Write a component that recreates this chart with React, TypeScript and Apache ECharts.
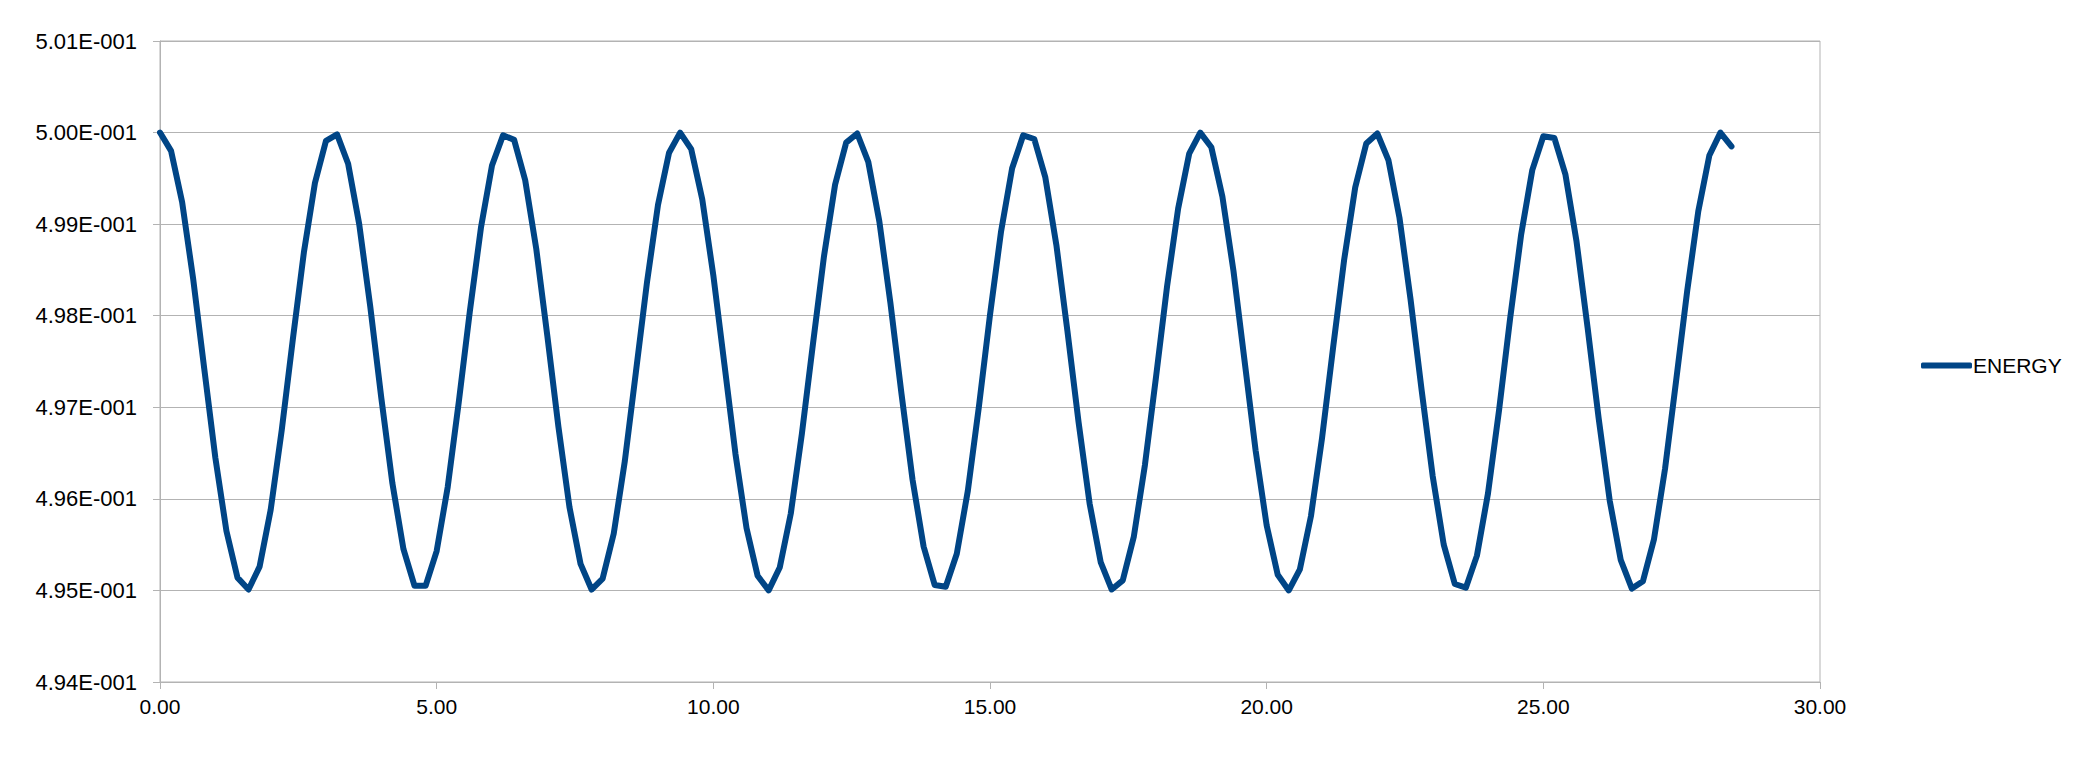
import React, { useEffect, useRef } from "react";
import * as echarts from "echarts";

const TIMES = [
  0, 0.2, 0.4, 0.6, 0.8, 1.0, 1.2, 1.4, 1.6, 1.8,
  2.0, 2.2, 2.4, 2.6, 2.8, 3.0, 3.2, 3.4, 3.6, 3.8,
  4.0, 4.2, 4.4, 4.6, 4.8, 5.0, 5.2, 5.4, 5.6, 5.8,
  6.0, 6.2, 6.4, 6.6, 6.8, 7.0, 7.2, 7.4, 7.6, 7.8,
  8.0, 8.2, 8.4, 8.6, 8.8, 9.0, 9.2, 9.4, 9.6, 9.8,
  10.0, 10.2, 10.4, 10.6, 10.8, 11.0, 11.2, 11.4, 11.6, 11.8,
  12.0, 12.2, 12.4, 12.6, 12.8, 13.0, 13.2, 13.4, 13.6, 13.8,
  14.0, 14.2, 14.4, 14.6, 14.8, 15.0, 15.2, 15.4, 15.6, 15.8,
  16.0, 16.2, 16.4, 16.6, 16.8, 17.0, 17.2, 17.4, 17.6, 17.8,
  18.0, 18.2, 18.4, 18.6, 18.8, 19.0, 19.2, 19.4, 19.6, 19.8,
  20.0, 20.2, 20.4, 20.6, 20.8, 21.0, 21.2, 21.4, 21.6, 21.8,
  22.0, 22.2, 22.4, 22.6, 22.8, 23.0, 23.2, 23.4, 23.6, 23.8,
  24.0, 24.2, 24.4, 24.6, 24.8, 25.0, 25.2, 25.4, 25.6, 25.8,
  26.0, 26.2, 26.4, 26.6, 26.8, 27.0, 27.2, 27.4, 27.6, 27.8,
  28.0, 28.2, 28.4,
];

const ENERGY = [
  0.50000, 0.49980, 0.49924, 0.49840, 0.49742, 0.49645, 0.49565, 0.49514, 0.49501, 0.49526,
  0.49588, 0.49675, 0.49774, 0.49869, 0.49945, 0.49991, 0.49998, 0.49966, 0.49900, 0.49810,
  0.49710, 0.49617, 0.49545, 0.49505, 0.49505, 0.49543, 0.49613, 0.49706, 0.49805, 0.49896,
  0.49964, 0.49997, 0.49992, 0.49948, 0.49873, 0.49778, 0.49679, 0.49591, 0.49529, 0.49501,
  0.49513, 0.49562, 0.49641, 0.49738, 0.49836, 0.49921, 0.49978, 0.50000, 0.49982, 0.49927,
  0.49844, 0.49747, 0.49649, 0.49568, 0.49516, 0.49500, 0.49525, 0.49584, 0.49671, 0.49769,
  0.49865, 0.49943, 0.49989, 0.49999, 0.49968, 0.49903, 0.49814, 0.49715, 0.49621, 0.49548,
  0.49506, 0.49504, 0.49540, 0.49609, 0.49701, 0.49801, 0.49892, 0.49961, 0.49997, 0.49993,
  0.49951, 0.49877, 0.49783, 0.49684, 0.49595, 0.49531, 0.49501, 0.49511, 0.49559, 0.49637,
  0.49733, 0.49832, 0.49917, 0.49977, 0.50000, 0.49984, 0.49930, 0.49849, 0.49751, 0.49653,
  0.49571, 0.49517, 0.49500, 0.49523, 0.49581, 0.49666, 0.49765, 0.49861, 0.49940, 0.49988,
  0.49999, 0.49970, 0.49907, 0.49818, 0.49719, 0.49625, 0.49550, 0.49507, 0.49503, 0.49538,
  0.49606, 0.49697, 0.49797, 0.49889, 0.49959, 0.49996, 0.49994, 0.49954, 0.49881, 0.49787,
  0.49688, 0.49598, 0.49533, 0.49502, 0.49510, 0.49556, 0.49633, 0.49729, 0.49827, 0.49914,
  0.49975, 0.50000, 0.49985,
];

const SERIES_NAME = "ENERGY";
const X_MIN = 0;
const X_MAX = 30;
const X_STEP = 5;
const Y_MIN = 0.494;
const Y_MAX = 0.501;
const Y_STEP = 0.001;

function sciLabel(v: number): string {
  if (v === 0) return "0.00E+000";
  const e = Math.floor(Math.log10(Math.abs(v)) + 1e-9);
  const m = v / Math.pow(10, e);
  const sign = e < 0 ? "-" : "+";
  const digits = String(Math.abs(e)).padStart(3, "0");
  return `${m.toFixed(2)}E${sign}${digits}`;
}

export default function App() {
  const ref = useRef<HTMLDivElement>(null);
  useEffect(() => {
    document.body.style.margin = "0";
    if (!ref.current) return;
    const chart = echarts.init(ref.current, undefined, { renderer: "svg" });
    const gray = "#b3b3b3";
    const font = "'Liberation Sans', Arial, sans-serif";
    chart.setOption({
      animation: false,
      backgroundColor: "#ffffff",
      textStyle: { fontFamily: font },
      grid: {
        left: 160,
        right: 256,
        top: 41,
        bottom: 85,
        containLabel: false,
        show: true,
        borderColor: gray,
        borderWidth: 1,
        backgroundColor: "transparent",
      },
      legend: {
        data: [SERIES_NAME],
        left: 1916,
        top: 350,
        icon: "roundRect",
        itemWidth: 51,
        itemHeight: 6,
        textStyle: { color: "#000000", fontSize: 21, fontFamily: font, padding: [0, 0, 0, -4] },
      },
      xAxis: {
        type: "value",
        min: X_MIN,
        max: X_MAX,
        interval: X_STEP,
        axisLine: { show: true, onZero: false, lineStyle: { color: gray, width: 1 } },
        axisTick: { show: true, length: 7, lineStyle: { color: gray } },
        splitLine: { show: false },
        axisLabel: {
          color: "#000000",
          fontSize: 21,
          fontFamily: font,
          margin: 14,
          formatter: (v: number) => v.toFixed(2),
        },
      },
      yAxis: {
        type: "value",
        min: Y_MIN,
        max: Y_MAX,
        interval: Y_STEP,
        axisLine: { show: true, lineStyle: { color: gray, width: 1 } },
        axisTick: { show: true, length: 7, lineStyle: { color: gray } },
        splitLine: { show: true, lineStyle: { color: gray, width: 1 } },
        axisLabel: {
          color: "#000000",
          fontSize: 22,
          fontFamily: font,
          margin: 23,
          formatter: (v: number) => sciLabel(v),
        },
      },
      series: [
        {
          name: SERIES_NAME,
          type: "line",
          data: TIMES.map((t, i) => [t, ENERGY[i]]),
          showSymbol: false,
          symbol: "none",
          lineStyle: { color: "#004586", width: 6, cap: "round", join: "round" },
          itemStyle: { color: "#004586" },
        },
      ],
    });
    return () => chart.dispose();
  }, []);
  return <div ref={ref} style={{ width: 2076, height: 767 }} />;
}
